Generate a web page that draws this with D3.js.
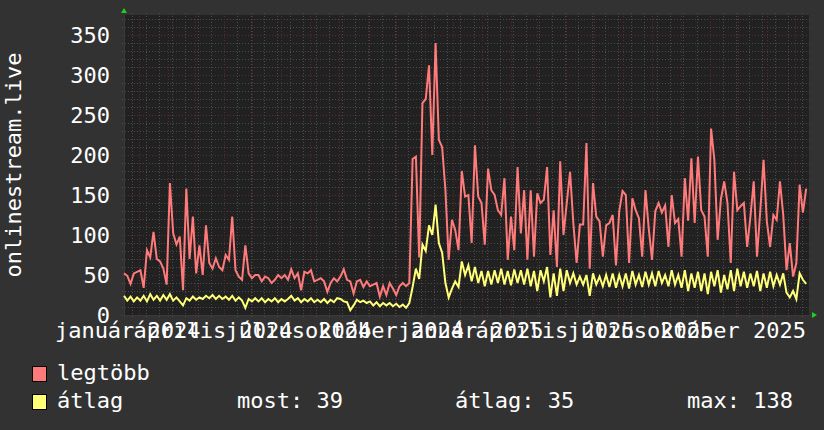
<!DOCTYPE html>
<html><head><meta charset="utf-8">
<script src="https://cdn.jsdelivr.net/npm/d3@7"></script>
<style>
html,body{margin:0;padding:0;background:#323232;}
svg{display:block;}
text{font-family:"DejaVu Sans Mono",monospace;fill:#ffffff;}
</style>
</head><body>
<svg id="chart" width="824" height="430"></svg>
<script>
// ---- data ----
const startDate = "2023-12-16";
const endDate = "2025-12-16";
const stepDays = 3.5;
const seriesNames = ["legtöbb", "átlag"];
const maxValues = [
52,49,39,52,54,56,34,81,72,104,70,67,58,38,165,102,88,98,31,158,
70,123,52,87,50,112,65,58,71,60,56,75,69,123,56,48,44,87,52,46,
50,50,42,48,46,40,44,50,46,50,44,57,46,52,31,54,52,56,42,44,
46,42,29,40,46,42,48,57,44,42,27,42,44,35,42,36,38,40,23,36,
25,40,33,25,36,40,36,40,195,198,72,265,270,312,200,340,219,210,156,69,
119,106,81,180,148,150,90,212,148,140,88,183,156,150,131,125,171,69,123,81,
185,102,156,69,156,73,152,140,144,185,75,131,60,192,100,140,179,115,65,113,
113,215,58,165,123,117,73,112,115,125,62,130,155,150,65,146,131,121,73,156,
108,69,130,140,128,137,85,150,115,120,73,171,118,196,115,198,131,123,73,233,
194,94,145,167,140,65,179,131,136,140,85,123,167,73,130,194,117,85,125,119,
167,125,56,90,48,65,163,128,158
];
const avgValues = [
24,18,23,17,22,18,24,17,26,19,24,18,25,19,26,18,22,17,12,21,
18,23,19,22,20,24,21,25,20,24,20,23,19,24,18,22,18,9,20,17,
21,17,21,16,20,17,21,16,20,17,20,24,18,21,16,20,17,21,16,19,
16,20,15,19,16,21,20,17,16,6,12,19,16,18,15,17,12,16,11,15,
12,15,11,14,10,13,9,15,35,58,45,88,80,112,100,138,90,78,40,22,
33,42,35,67,50,62,42,60,40,55,36,55,38,56,40,58,38,55,37,57,
40,56,38,58,36,55,30,56,42,60,22,52,24,58,30,56,40,52,38,48,
38,50,24,52,38,48,36,50,35,52,34,50,36,52,33,55,38,50,35,54,
38,52,36,55,40,50,36,56,38,50,34,56,30,52,34,54,30,52,26,54,
36,56,28,50,32,56,30,58,36,54,34,52,36,55,30,52,34,54,36,50,
38,52,28,22,30,20,52,44,39
];
const yTickValues = [0, 50, 100, 150, 200, 250, 300, 350];
const xLabelDates = ["2024-01-01","2024-04-01","2024-07-01","2024-10-01","2025-01-01","2025-04-01","2025-07-01","2025-10-01"];
const xLabelTexts = ["január 2024","április 2024","július 2024","október 2024","január 2025","április 2025","július 2025","október 2025"];
const legendStats = ["most: 39", "átlag: 35", "max: 138"];
const yAxisTitle = "onlinestream.live";

// ---- layout ----
const X0 = 124, X1 = 809, Y0 = 315, Y1 = 15;
const colors = {back:"#323232", canvas:"#212121", grid:"#4b4b4b", mgrid:"#5a2d2d",
  max:"#ff7b7b", avg:"#ffff78", arrow:"#22cc22", axis:"#3a3a3a"};
const FS = 22;
const DAY = 86400000;
const parse = s => new Date(s + "T00:00:00Z");
const t0 = parse(startDate), t1 = parse(endDate);
const dates = maxValues.map((_, i) => new Date(+t0 + i * stepDays * DAY));

const x = d3.scaleUtc().domain([t0, t1]).range([X0, X1]);
const y = d3.scaleLinear().domain([0, 375]).range([Y0, Y1]);

const svg = d3.select("#chart");
svg.append("rect").attr("width", 824).attr("height", 430).attr("fill", colors.back);
svg.append("rect").attr("x", X0).attr("y", Y1).attr("width", X1 - X0).attr("height", Y0 - Y1).attr("fill", colors.canvas);

const g = svg.append("g").attr("shape-rendering", "crispEdges");
const hline = (v, c) => g.append("line").attr("x1", X0 - 2).attr("x2", X1 + 2)
  .attr("y1", Math.round(y(v)) + 0.5).attr("y2", Math.round(y(v)) + 0.5)
  .attr("stroke", c).attr("stroke-dasharray", "1,2");
const vline = (d, c) => {
  const px = Math.round(x(d)) + 0.5;
  g.append("line").attr("x1", px).attr("x2", px).attr("y1", Y0 + 2).attr("y2", Y1 - 2)
   .attr("stroke", c).attr("stroke-dasharray", "1,2");
};
// minor grid
d3.range(10, 375, 10).filter(v => v % 50 !== 0).forEach(v => hline(v, colors.grid));
d3.utcMonday.every(1).range(parse("2023-12-25"), t1).filter((d, i) => i % 2 === 0).forEach(d => vline(d, colors.grid));
// major grid
yTickValues.filter(v => v > 0).forEach(v => hline(v, colors.mgrid));
d3.utcMonth.range(parse("2024-01-01"), t1).forEach(d => vline(d, colors.mgrid));
// axes lines
g.append("line").attr("x1", X0 - 4).attr("x2", X1 + 4).attr("y1", Y0 + 0.5).attr("y2", Y0 + 0.5).attr("stroke", colors.axis);
g.append("line").attr("x1", X0 + 0.5).attr("x2", X0 + 0.5).attr("y1", Y0 + 4).attr("y2", Y1 - 4).attr("stroke", colors.axis);

// y labels
svg.append("g").selectAll("text").data(yTickValues).join("text")
  .attr("x", 110).attr("y", d => y(d) + 7.5)
  .attr("text-anchor", "end").attr("font-size", FS).text(d => d);

// x labels
svg.append("g").selectAll("text").data(xLabelDates).join("text")
  .attr("x", d => x(new Date(+parse(d) - 12 * DAY)))
  .attr("y", 338).attr("text-anchor", "middle").attr("font-size", FS)
  .text((d, i) => xLabelTexts[i]);

// y title
svg.append("text").attr("transform", `translate(21,${(Y0 + Y1) / 2}) rotate(-90)`)
  .attr("text-anchor", "middle").attr("font-size", FS).text(yAxisTitle);

// lines
const line = d3.line().x((d, i) => x(dates[i])).y(d => y(d));
svg.append("path").datum(maxValues).attr("d", line).attr("fill", "none")
  .attr("stroke", colors.max).attr("stroke-width", 2).attr("stroke-linejoin", "miter");
svg.append("path").datum(avgValues).attr("d", line).attr("fill", "none")
  .attr("stroke", colors.avg).attr("stroke-width", 2).attr("stroke-linejoin", "miter");

// arrows
svg.append("path").attr("d", `M${X0 - 3},${Y1 - 2} L${X0 + 3},${Y1 - 2} L${X0},${Y1 - 7} Z`).attr("fill", colors.arrow);
svg.append("path").attr("d", `M${X1 + 3},${Y0 - 3} L${X1 + 3},${Y0 + 3} L${X1 + 8},${Y0} Z`).attr("fill", colors.arrow);

// legend
const leg = svg.append("g");
[[colors.max, 366, 380], [colors.avg, 394, 408]].forEach(([c, ry, ty], i) => {
  leg.append("rect").attr("x", 32.5).attr("y", ry + 0.5).attr("width", 14).attr("height", 15)
    .attr("fill", c).attr("stroke", "#000").attr("stroke-width", 1);
  leg.append("text").attr("x", 57).attr("y", ty).attr("font-size", FS).text(seriesNames[i]);
});
[237, 455, 687].forEach((px, i) => {
  leg.append("text").attr("x", px).attr("y", 408).attr("font-size", FS).text(legendStats[i]);
});
</script>
</body></html>
